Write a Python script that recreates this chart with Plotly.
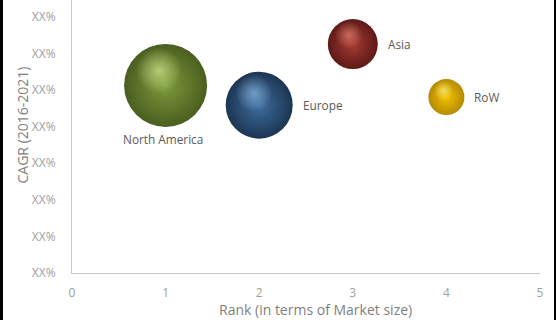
import plotly.graph_objects as go

regions = ["North America", "Europe", "Asia", "RoW"]
rank = [1, 2, 3, 4]
cagr = [5.13, 4.59, 6.26, 4.81]
bubble_size = [83, 67, 50, 36]
label_below = [True, False, False, False]
edge_colors = ["#4a5e1f", "#1c3553", "#5e1a17", "#b58a00"]
mid_colors = ["#7d9a3c", "#3f6e9e", "#a53a33", "#f2c200"]
hi_colors = ["rgba(215,240,150,0.95)", "rgba(150,195,235,0.9)", "rgba(240,140,130,0.9)", "rgba(255,245,140,0.95)"]
hi_clear = ["rgba(215,240,150,0)", "rgba(150,195,235,0)", "rgba(240,140,130,0)", "rgba(255,245,140,0)"]
y_ticks = [0, 1, 2, 3, 4, 5, 6, 7]
y_tick_labels = ["XX%"] * 8
x_ticks = [0, 1, 2, 3, 4, 5]

W, H = 556, 320
ML, MR, MT, MB = 72, 16, 0, 47
plot_w = W - ML - MR
plot_h = H - MT - MB
x_range = [0, 5]
y_range = [0, 7 + 17 / 36.57]
px_x = plot_w / (x_range[1] - x_range[0])
px_y = plot_h / (y_range[1] - y_range[0])

fig = go.Figure()

# base spheres
fig.add_trace(go.Scatter(
    x=rank, y=cagr, mode="markers",
    marker=dict(size=bubble_size, color=edge_colors, line=dict(width=0),
                gradient=dict(type="radial", color=mid_colors), opacity=1),
    hoverinfo="skip", showlegend=False, cliponaxis=False,
))

# specular highlights
hx = [r - 0.08 * s / px_x for r, s in zip(rank, bubble_size)]
hy = [c + 0.18 * s / px_y for c, s in zip(cagr, bubble_size)]
fig.add_trace(go.Scatter(
    x=hx, y=hy, mode="markers",
    marker=dict(size=[s * 0.55 for s in bubble_size], color=hi_clear, line=dict(width=0),
                gradient=dict(type="radial", color=hi_colors)),
    hoverinfo="skip", showlegend=False, cliponaxis=False,
))

annotations = []
for name, r, c, s, below in zip(regions, rank, cagr, bubble_size, label_below):
    if below:
        annotations.append(dict(text=name, x=r, y=c, xref="x", yref="y", showarrow=False,
                                xanchor="center", yanchor="top", xshift=-3, yshift=-(s / 2 + 2),
                                font=dict(family="Open Sans", size=11.8, color="#595959")))
    else:
        annotations.append(dict(text=name, x=r, y=c, xref="x", yref="y", showarrow=False,
                                xanchor="left", yanchor="middle", xshift=s / 2 + 8, yshift=0,
                                font=dict(family="Open Sans", size=11.8, color="#595959")))

annotations += [
    dict(text="Rank (in terms of Market size)", xref="paper", yref="paper",
         x=(315 - ML) / plot_w, y=(H - MB - 309) / plot_h, showarrow=False,
         xanchor="center", yanchor="middle",
         font=dict(family="Open Sans", size=14, color="#7f7f7f")),
    dict(text="CAGR (2016-2021)", xref="paper", yref="paper",
         x=(22 - ML) / plot_w, y=(H - MB - 125.5) / plot_h, showarrow=False, textangle=-90,
         xanchor="center", yanchor="middle",
         font=dict(family="Open Sans", size=14, color="#7f7f7f")),
]

fig.update_layout(
    width=W, height=H,
    margin=dict(l=ML, r=MR, t=MT, b=MB),
    paper_bgcolor="white", plot_bgcolor="white",
    font=dict(family="Open Sans", color="#7f7f7f"),
    xaxis=dict(range=x_range, tickvals=x_ticks, showgrid=False, zeroline=False,
               showline=True, linecolor="#c8c8c8", linewidth=1,
               ticks="", ticklabelstandoff=9,
               tickfont=dict(family="Open Sans", size=12, color="#a0a0a0")),
    yaxis=dict(range=y_range, tickvals=y_ticks, ticktext=y_tick_labels, showgrid=False,
               zeroline=False, showline=True, linecolor="#c8c8c8", linewidth=1,
               ticks="", ticklabelstandoff=13,
               tickfont=dict(family="Open Sans", size=12, color="#a0a0a0")),
    annotations=annotations,
    shapes=[
        dict(type="rect", xref="paper", yref="paper", xsizemode="pixel", ysizemode="pixel",
             xanchor=0, yanchor=0, x0=-ML, x1=-ML + 3, y0=-MB, y1=plot_h + MT,
             fillcolor="black", line=dict(width=0), layer="above"),
        dict(type="rect", xref="paper", yref="paper", xsizemode="pixel", ysizemode="pixel",
             xanchor=1, yanchor=0, x0=MR - 2, x1=MR, y0=-MB, y1=plot_h + MT,
             fillcolor="black", line=dict(width=0), layer="above"),
    ],
)

fig.write_html("out.html")
